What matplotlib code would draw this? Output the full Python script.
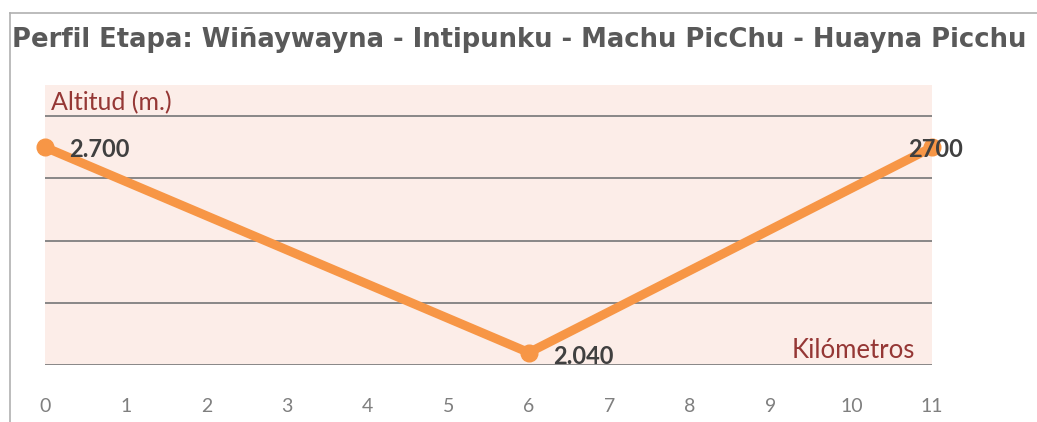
import matplotlib.pyplot as plt
from matplotlib.lines import Line2D

km = [0, 6, 11]
altitud = [2700, 2040, 2700]
etiquetas = ["2.700", "2.040", "2700"]
xticks = list(range(0, 12))
yticks = [2000, 2200, 2400, 2600, 2800]

titulo = "Perfil Etapa: Wiñaywayna - Intipunku - Machu PicChu - Huayna Picchu"
fuente = ["Liberation Sans Narrow", "Lato", "DejaVu Sans"]

fig = plt.figure(figsize=(10.37, 4.22), dpi=100)
ax = fig.add_axes([0.0434, 0.135, 0.8554, 0.6635])
ax.set_facecolor("#fcede8")

ax.plot(km, altitud, color="#f79646", linewidth=6.5, solid_capstyle="round",
        zorder=3, clip_on=False)
ax.plot(km, altitud, "o", color="#f79646", markersize=12,
        zorder=4, clip_on=False)

ax.set_xlim(0, 11)
ax.set_ylim(2000, 2900)
ax.set_yticks(yticks)
ax.set_xticks(xticks)
ax.yaxis.grid(True, color="#7f7f7f", linewidth=1.3)
ax.set_axisbelow(True)
ax.tick_params(axis="y", left=False, labelleft=False)
ax.tick_params(axis="x", bottom=False, pad=20, labelsize=14, labelcolor="#7f7f7f")
for lab in ax.get_xticklabels():
    lab.set_family(fuente)
for s in ax.spines.values():
    s.set_visible(False)

offs = [(0.3, -8), (0.3, -12), (-0.3, -8)]
for x, y, t, (dx, dy) in zip(km, altitud, etiquetas, offs):
    ax.text(x + dx, y + dy, t, fontsize=17, fontweight="bold", color="#404040",
            ha="left", va="center", family=fuente, zorder=5, clip_on=False)

ax.text(0.08, 2843, "Altitud (m.)", fontsize=18, color="#953735",
        ha="left", va="center", family=fuente)
ax.text(10.79, 2048, "Kilómetros", fontsize=18.5, color="#953735",
        ha="right", va="center", family=fuente)

fig.text(0.012, 0.905, titulo, fontsize=18.6, fontweight="bold", color="#595959",
         ha="left", va="center", family="DejaVu Sans")

# marco
fig.add_artist(Line2D([0.0096, 0.0096], [0, 0.97], color="#b0b0b0", linewidth=1.2))
fig.add_artist(Line2D([0.0096, 1], [0.97, 0.97], color="#b0b0b0", linewidth=1.2))

fig.savefig("out.png", dpi=100, facecolor="white")
